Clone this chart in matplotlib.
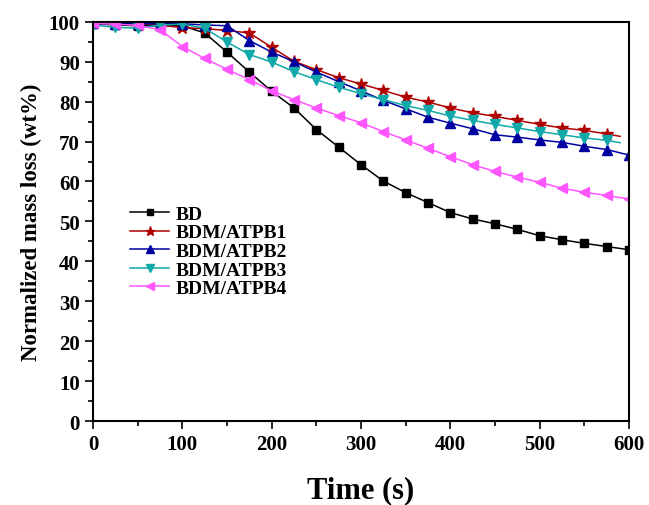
import matplotlib
matplotlib.use("Agg")
from matplotlib import pyplot as plt
from matplotlib.ticker import MultipleLocator

plt.rcParams['font.family'] = ['Liberation Serif', 'DejaVu Serif']
plt.rcParams['font.weight'] = 'bold'

t_full = [0, 25, 50, 75, 100, 125, 150, 175, 200, 225, 250, 275, 300,
          325, 350, 375, 400, 425, 450, 475, 500, 525, 550, 575, 600]
t_short = [0, 25, 50, 75, 100, 125, 150, 175, 200, 225, 250, 275, 300,
           325, 350, 375, 400, 425, 450, 475, 500, 525, 550, 575, 590]

bd = [99.5, 99.2, 99.0, 99.0, 99.0, 97.2, 92.4, 87.4, 82.6, 78.4, 73.0, 68.6, 64.2,
      60.1, 57.2, 54.7, 52.2, 50.6, 49.4, 48.0, 46.4, 45.4, 44.5, 43.7, 42.9]
atpb1 = [99.6, 99.5, 99.5, 99.2, 98.5, 98.3, 97.8, 97.2, 93.6, 90.1, 88.0, 86.0, 84.4,
         82.8, 81.1, 79.9, 78.4, 77.2, 76.3, 75.3, 74.3, 73.4, 72.8, 71.9, 71.3]
atpb2 = [99.6, 99.5, 99.5, 99.5, 99.5, 99.2, 99.0, 95.3, 92.4, 90.0, 87.4, 85.0, 82.7,
         80.3, 78.2, 76.1, 74.6, 73.2, 71.7, 71.1, 70.4, 69.8, 68.8, 68.0, 66.6]
atpb3 = [99.2, 98.6, 98.4, 99.2, 99.4, 98.4, 94.9, 91.8, 89.9, 87.5, 85.5, 83.6, 82.0,
         80.5, 79.0, 77.8, 76.4, 75.3, 74.3, 73.4, 72.5, 71.7, 70.9, 70.3, 69.7]
atpb4 = [99.6, 99.4, 99.1, 98.0, 93.8, 90.8, 88.1, 85.5, 82.7, 80.5, 78.4, 76.5, 74.7,
         72.5, 70.4, 68.3, 66.2, 64.2, 62.5, 61.1, 59.8, 58.3, 57.3, 56.5, 55.6]

fig = plt.figure(figsize=(6.49, 5.06), dpi=100)
ax = fig.add_axes([0.1433, 0.166, 0.826, 0.789])

every = list(range(24))
ax.plot(t_full, bd, color='black', marker='s', ms=6, lw=1.1, label='BD')
ax.plot(t_short, atpb1, color='#b00000', marker='*', ms=9, lw=1.1,
        markevery=every, label='BDM/ATPB1')
ax.plot(t_full, atpb2, color='#0000a0', marker='^', ms=7.5, lw=1.1, label='BDM/ATPB2')
ax.plot(t_short, atpb3, color='#10a8a8', marker='v', ms=7.5, lw=1.1,
        markevery=every, label='BDM/ATPB3')
ax.plot(t_full, atpb4, color='#ff55ff', marker='<', ms=7.5, lw=1.1, label='BDM/ATPB4')

ax.set_xlim(0, 600)
ax.set_ylim(0, 100)
ax.xaxis.set_major_locator(MultipleLocator(100))
ax.xaxis.set_minor_locator(MultipleLocator(50))
ax.yaxis.set_major_locator(MultipleLocator(10))
ax.yaxis.set_minor_locator(MultipleLocator(5))
ax.tick_params(which='major', direction='out', length=6, width=1.2, labelsize=15)
ax.tick_params(which='minor', direction='out', length=3.5, width=1.2)
for s in ax.spines.values():
    s.set_linewidth(1.5)

ax.set_xlabel('Time (s)', fontsize=22, fontweight='bold', labelpad=15)
ax.set_ylabel('Normalized mass loss (wt%)', fontsize=16.5, fontweight='bold', labelpad=5)

ax.legend(loc='upper left', bbox_to_anchor=(0.055, 0.56), frameon=False,
          fontsize=14, labelspacing=0.05, handlelength=2.0, handletextpad=0.35,
          markerscale=0.75, borderaxespad=0)

fig.savefig('out.png', dpi=100)
